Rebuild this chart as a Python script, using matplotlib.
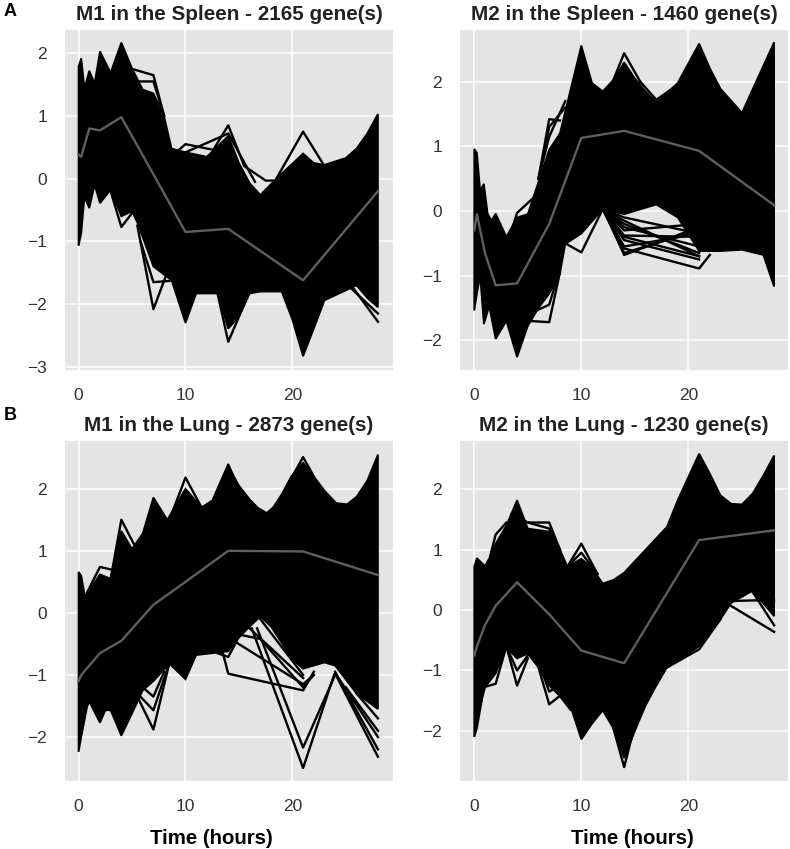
import matplotlib
matplotlib.use("Agg")
import matplotlib.pyplot as plt

# === sampled time points (mean profile) ===
mean_t = [0, 0.25, 1, 2, 4, 7, 10, 14, 21, 28]

# === M1 spleen ===
m1_spleen_up_t = [0, 0.25, 0.55, 1, 1.5, 2, 3, 4, 5, 6, 7, 8, 8.7, 10, 12, 14, 15, 16, 17, 18.5, 19, 21, 22, 23, 25, 26, 27, 28]
m1_spleen_up = [1.79, 1.92, 1.44, 1.72, 1.52, 2.03, 1.69, 2.17, 1.76, 1.42, 1.36, 0.99, 0.48, 0.42, 0.35, 0.68, 0.25, -0.07, -0.26, 0.0, 0.08, 0.4, 0.25, 0.22, 0.33, 0.48, 0.72, 1.03]
m1_spleen_low_t = [0, 0.25, 0.55, 1, 1.5, 2, 3, 4, 5, 5.5, 7, 8.7, 10, 11, 12, 13, 14, 15, 16, 17, 19, 20, 21, 22, 23, 25, 26, 27, 28]
m1_spleen_low = [-1.07, -0.87, -0.29, -0.47, -0.1, -0.39, -0.18, -0.6, -0.52, -0.7, -1.4, -1.62, -2.3, -1.83, -1.83, -1.83, -2.39, -2.2, -1.83, -1.8, -1.8, -2.25, -2.83, -2.39, -1.94, -1.78, -1.7, -1.9, -2.05]
m1_spleen_mean = [0.38, 0.35, 0.8, 0.77, 0.98, 0.07, -0.85, -0.8, -1.62, -0.2]
m1_spleen_traces = [
    ([3, 4, 5], [-0.2, -0.77, -0.55]),
    ([5.5, 7, 8.5], [-0.75, -2.08, -1.4]),
    ([5.8, 7, 8.5], [-1.0, -1.65, -1.63]),
    ([5, 7, 8], [1.75, 1.65, 1.0]),
    ([5.5, 7, 8], [1.55, 1.55, 1.0]),
    ([9, 10, 12.6, 14, 15.5, 17.5, 19], [0.4, 0.55, 0.46, 0.85, 0.2, -0.03, -0.03]),
    ([10, 14, 16.5], [0.42, 0.72, -0.05]),
    ([18.5, 21, 23], [0.0, 0.75, 0.2]),
    ([13, 14, 16], [-1.83, -2.6, -1.8]),
    ([25.5, 28], [-1.7, -2.28]),
    ([25.5, 28], [-1.75, -2.15]),
]

# === M2 spleen ===
m2_spleen_up_t = [0, 0.25, 0.55, 0.9, 1.25, 1.6, 2, 3, 4, 5, 6, 7, 8, 9, 10, 11, 12, 13, 14, 15, 16, 17, 19, 21, 22, 23, 25, 28]
m2_spleen_up = [0.96, 0.9, 0.32, 0.42, -0.04, -0.15, -0.04, -0.4, -0.1, -0.05, 0.45, 0.95, 1.2, 1.88, 2.56, 1.98, 1.85, 2.03, 2.3, 2.05, 1.85, 1.68, 1.98, 2.59, 2.21, 1.89, 1.52, 2.61]
m2_spleen_low_t = [0, 0.25, 0.55, 0.9, 1.4, 2, 3, 4, 5, 6, 7, 8, 8.5, 10, 12, 14, 17, 19, 21, 23, 25, 27, 28]
m2_spleen_low = [-1.54, -1.28, -1.0, -1.75, -1.47, -1.98, -1.7, -2.26, -1.78, -1.5, -1.28, -0.97, -0.51, -0.35, 0.03, -0.05, 0.1, -0.1, -0.62, -0.62, -0.6, -0.68, -1.17]
m2_spleen_mean = [-0.3, -0.05, -0.65, -1.15, -1.12, -0.2, 1.13, 1.24, 0.93, 0.09]
m2_spleen_traces = [
    ([3.5, 4, 5.5], [-0.3, -0.03, 0.2]),
    ([6, 7, 8], [0.5, 1.42, 1.4]),
    ([6, 7, 8.5], [0.5, 1.3, 1.6]),
    ([6, 7, 8.5], [0.5, 1.15, 1.7]),
    ([5, 7, 8], [-1.7, -1.72, -0.95]),
    ([5, 7, 8], [-1.6, -1.45, -0.9]),
    ([8.5, 10, 12], [-0.5, -0.64, 0.03]),
    ([12, 14, 21], [0.05, -0.68, -0.25]),
    ([12, 14, 21], [0.03, -0.65, -0.3]),
    ([12, 14, 21, 22], [0.03, -0.58, -0.89, -0.68]),
    ([12, 14, 21], [0.03, -0.55, -0.35]),
    ([12, 14, 21], [0.03, -0.45, -0.75]),
    ([12, 14, 21], [0.03, -0.38, -0.4]),
    ([12, 14, 21], [0.03, -0.4, -0.7]),
    ([12, 14, 21], [0.03, -0.3, -0.2]),
    ([12, 14, 21], [0.03, -0.2, -0.65]),
    ([12, 14, 21], [0.03, -0.15, -0.7]),
    ([12, 14, 21], [0.03, -0.1, -0.35]),
    ([12, 14, 21], [0.03, -0.25, -0.55]),
    ([13, 14, 15.5], [2.03, 2.44, 2.0]),
    ([15.5, 17, 19], [2.0, 1.72, 1.95]),
]

# === M1 lung ===
m1_lung_up_t = [0, 0.25, 0.6, 2, 3, 4, 5, 6, 7, 8.3, 10, 11.5, 12.5, 14, 14.5, 15, 16.05, 16.8, 17.6, 18.2, 19, 19.9, 21, 22, 23, 24.1, 25.1, 26, 27, 28]
m1_lung_up = [0.66, 0.6, 0.26, 0.62, 0.55, 1.32, 1.03, 1.28, 1.86, 1.5, 2.0, 1.7, 1.81, 2.4, 2.21, 2.05, 1.82, 1.69, 1.61, 1.7, 1.91, 2.2, 2.42, 2.2, 1.97, 1.77, 1.75, 1.87, 2.13, 2.55]
m1_lung_low_t = [0, 0.25, 0.8, 1, 2, 2.5, 3, 4, 5, 6, 7, 8.5, 10, 11, 12.5, 14, 15, 16, 17, 18, 20, 21, 22, 23, 24, 26, 28]
m1_lung_low = [-2.24, -2.0, -1.51, -1.43, -1.77, -1.57, -1.57, -1.98, -1.62, -1.25, -1.1, -0.82, -1.07, -0.68, -0.65, -0.62, -0.4, -0.22, -0.06, -0.22, -0.75, -0.9, -0.85, -0.8, -0.85, -1.3, -1.55]
m1_lung_mean = [-1.1, -1.0, -0.85, -0.65, -0.45, 0.13, 0.5, 1.0, 0.99, 0.61]
m1_lung_traces = [
    ([0.6, 2, 3], [0.26, 0.74, 0.7]),
    ([3, 4, 5.5], [0.55, 1.5, 1.0]),
    ([8.5, 10, 11.5], [1.5, 2.18, 1.7]),
    ([20, 21, 22], [2.2, 2.51, 2.2]),
    ([5.5, 7, 8.5], [-1.35, -1.88, -0.8]),
    ([5.5, 7, 8.5], [-1.3, -1.57, -0.8]),
    ([6, 7, 8], [-1.2, -1.35, -0.95]),
    ([13, 14, 14.8], [-0.65, -0.71, -0.45]),
    ([13.5, 14, 21, 22], [-0.65, -0.98, -1.25, -0.95]),
    ([16.2, 21, 23.9], [-0.25, -2.5, -1.0]),
    ([16.7, 21, 24], [-0.25, -2.17, -1.0]),
    ([15, 17, 21, 22], [-0.35, -0.42, -1.2, -1.0]),
    ([14.5, 21, 22], [-0.45, -1.15, -1.0]),
    ([16, 21], [-0.25, -1.05]),
    ([17, 21], [-0.1, -1.0]),
    ([24, 28], [-0.98, -2.32]),
    ([24, 28], [-0.95, -2.2]),
    ([24.5, 28], [-1.1, -2.0]),
    ([25, 28], [-1.2, -1.9]),
    ([26, 28], [-1.3, -1.7]),
]

# === M2 lung ===
m2_lung_up_t = [0, 0.25, 1, 1.5, 2, 3, 4, 5, 7, 8, 8.7, 10, 11, 12, 13, 14, 16, 18, 19, 21, 22, 23, 24, 25, 26, 27, 28]
m2_lung_up = [0.72, 0.86, 0.73, 0.89, 1.1, 1.4, 1.82, 1.35, 1.3, 1.0, 0.72, 0.85, 0.7, 0.44, 0.5, 0.62, 1.0, 1.38, 1.82, 2.59, 2.26, 1.9, 1.76, 1.75, 1.93, 2.23, 2.56]
m2_lung_low_t = [0, 0.25, 0.9, 2, 3, 4, 5, 6, 7, 9, 10, 11, 12, 13, 14, 15, 16, 17, 18, 21, 23, 24, 26, 28]
m2_lung_low = [-2.1, -1.96, -1.3, -1.05, -0.62, -0.8, -0.72, -0.95, -1.25, -1.6, -2.14, -1.88, -1.66, -1.96, -2.45, -2.0, -1.58, -1.25, -0.95, -0.6, -0.15, 0.12, 0.32, -0.1]
m2_lung_mean = [-0.75, -0.6, -0.25, 0.07, 0.46, -0.07, -0.67, -0.88, 1.16, 1.32]
m2_lung_traces = [
    ([0.5, 1, 2, 3], [-1.6, -1.27, -1.22, -0.6]),
    ([3, 4, 5], [-0.6, -1.25, -0.8]),
    ([3, 4, 5], [-0.6, -1.0, -0.75]),
    ([6, 7, 8, 9], [-0.95, -1.56, -1.42, -1.65]),
    ([6.3, 7, 8], [-1.0, -1.35, -1.25]),
    ([1.5, 2, 3], [0.9, 1.25, 1.45]),
    ([5, 7, 8], [1.45, 1.45, 1.0]),
    ([3.5, 5, 7, 8], [1.6, 1.45, 1.35, 1.0]),
    ([8.7, 10, 11.5], [0.72, 1.1, 0.6]),
    ([8.7, 10, 11.5], [0.72, 0.95, 0.6]),
    ([13, 14, 15], [-1.96, -2.6, -1.9]),
    ([17.5, 21, 23], [-1.0, -0.65, -0.15]),
    ([23.5, 28], [0.12, -0.36]),
    ([24, 26, 28], [0.15, 0.16, 0.16]),
    ([26, 28], [0.3, -0.25]),
]

# === panels ===
titles = ["M1 in the Spleen - 2165 gene(s)", "M2 in the Spleen - 1460 gene(s)",
          "M1 in the Lung - 2873 gene(s)", "M2 in the Lung - 1230 gene(s)"]
x_ticks = [0, 10, 20]
y_ticks = [[-3, -2, -1, 0, 1, 2], [-2, -1, 0, 1, 2], [-2, -1, 0, 1, 2], [-2, -1, 0, 1, 2]]
y_lims = [(-3.05, 2.37), (-2.46, 2.8), (-2.71, 2.77), (-2.83, 2.8)]
x_lims = [(-1.27, 29.41), (-1.33, 29.3), (-1.27, 29.41), (-1.33, 29.3)]
boxes = [(65, 30, 328, 340), (460, 30, 328, 340), (65, 441, 328, 340), (460, 441, 328, 340)]
xlabel_x = [None, None, 0.447, 0.527]
panels = [
    (m1_spleen_up_t, m1_spleen_up, m1_spleen_low_t, m1_spleen_low, m1_spleen_mean, m1_spleen_traces),
    (m2_spleen_up_t, m2_spleen_up, m2_spleen_low_t, m2_spleen_low, m2_spleen_mean, m2_spleen_traces),
    (m1_lung_up_t, m1_lung_up, m1_lung_low_t, m1_lung_low, m1_lung_mean, m1_lung_traces),
    (m2_lung_up_t, m2_lung_up, m2_lung_low_t, m2_lung_low, m2_lung_mean, m2_lung_traces),
]

plt.rcParams["font.family"] = ["Liberation Sans", "DejaVu Sans"]
W, H = 790, 849
fig = plt.figure(figsize=(W / 100, H / 100), dpi=100)

for i, (up_t, up, low_t, low, mean, traces) in enumerate(panels):
    left, top, w, h = boxes[i]
    ax = fig.add_axes([left / W, 1 - (top + h) / H, w / W, h / H], facecolor="#e4e4e4")
    ax.grid(True, color="white", lw=1.1)
    ax.set_axisbelow(True)
    for s in ax.spines.values():
        s.set_visible(False)

    # the mass of gene profiles: outline + filled band
    ax.fill(up_t + low_t[::-1], up + low[::-1], color="black", lw=1.3, joinstyle="miter", zorder=2)
    for t, y in traces:
        ax.plot(t, y, color="black", lw=1.7, zorder=3)
    ax.plot(mean_t, mean, color="#5f5f5f", lw=1.7, zorder=4)

    ax.set_xlim(*x_lims[i])
    ax.set_ylim(*y_lims[i])
    ax.set_xticks(x_ticks)
    ax.set_yticks(y_ticks[i])
    ax.tick_params(length=0, labelsize=12.5, labelcolor="#333333", pad=13)
    ax.set_title(titles[i], fontsize=14.9, fontweight="bold", color="#222222", pad=7)
    if i >= 2:
        ax.set_xlabel("Time (hours)", fontsize=14.7, fontweight="bold", color="black")
        ax.xaxis.set_label_coords(xlabel_x[i], -0.141)

fig.text(4 / W, 1 - 11 / H, "A", fontsize=13, fontweight="bold", va="center", ha="left")
fig.text(4 / W, 1 - 416 / H, "B", fontsize=13, fontweight="bold", va="center", ha="left")

fig.savefig("out.png", dpi=100)
